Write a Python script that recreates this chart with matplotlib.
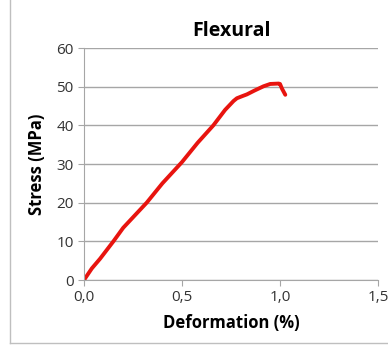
import matplotlib
matplotlib.use('Agg')
import matplotlib.pyplot as plt
from matplotlib.lines import Line2D

# stress-strain curve
deformation = [0.0, 0.04, 0.082, 0.15, 0.2, 0.32, 0.4, 0.5, 0.58, 0.66, 0.72, 0.763, 0.78, 0.81, 0.831, 0.87, 0.916, 0.95, 0.993, 1.0, 1.01, 1.027]
stress = [0.0, 3.0, 5.5, 10.0, 13.5, 20.0, 25.0, 30.5, 35.5, 40.0, 44.0, 46.3, 47.0, 47.6, 48.0, 49.0, 50.1, 50.7, 50.8, 50.7, 49.5, 47.9]

x_ticks = [0.0, 0.5, 1.0, 1.5]
x_labels = ['0,0', '0,5', '1,0', '1,5']
y_ticks = [0, 10, 20, 30, 40, 50, 60]

plt.rcParams['font.family'] = ['Open Sans', 'DejaVu Sans']

fig = plt.figure(figsize=(3.88, 3.45), dpi=100)
ax = fig.add_axes([84/388, 1 - 280/345, (378-84)/388, (280-48)/345])

ax.plot(deformation, stress, color='#e8140f', linewidth=2.8, solid_capstyle='round')

ax.set_xlim(0, 1.5)
ax.set_ylim(0, 60)
ax.set_xticks(x_ticks)
ax.set_xticklabels(x_labels)
ax.set_yticks(y_ticks)
ax.grid(axis='y', color='#a6a6a6', linewidth=1)
ax.set_axisbelow(True)
for s in ['top', 'right']:
    ax.spines[s].set_visible(False)
for s in ['left', 'bottom']:
    ax.spines[s].set_color('#a6a6a6')
ax.tick_params(colors='#a6a6a6', labelcolor='#333333', labelsize=11, length=4, direction='out')

ax.set_title('Flexural', fontsize=14, fontweight='bold', pad=9)
ax.set_xlabel('Deformation (%)', fontsize=12, fontweight='bold', labelpad=6)
ax.set_ylabel('Stress (MPa)', fontsize=12, fontweight='bold', labelpad=7)

# outer chart border (left and bottom visible in the reference)
fig.add_artist(Line2D([10/388, 10/388], [2/345, 1], transform=fig.transFigure, color='#bfbfbf', linewidth=1))
fig.add_artist(Line2D([10/388, 1], [2/345, 2/345], transform=fig.transFigure, color='#bfbfbf', linewidth=1))

fig.savefig('out.png', dpi=100)
